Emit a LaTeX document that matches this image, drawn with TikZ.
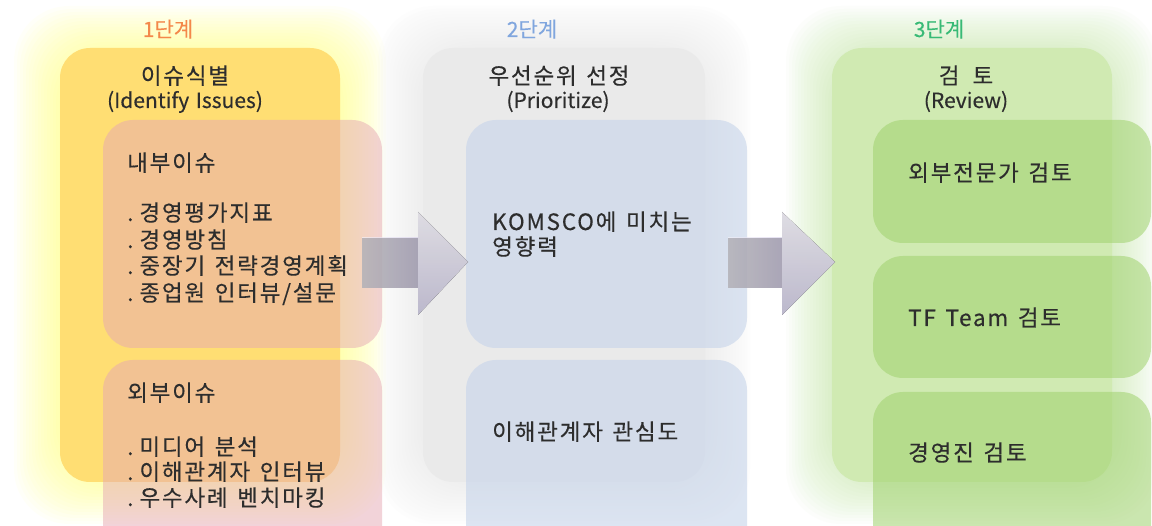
\documentclass[tikz,border=0pt]{standalone}
\usepackage{fontspec}
\setmainfont{Noto Sans CJK KR}[WordSpace=1.4, FakeBold=0.3, LetterSpace=8]
\newfontfamily\latinf{Noto Sans CJK KR}[WordSpace=1.4, FakeBold=0.3]
\definecolor{textc}{RGB}{45,45,45}
\definecolor{haloY}{RGB}{255,255,110}
\definecolor{haloGy}{RGB}{200,200,200}
\definecolor{haloGn}{RGB}{185,225,145}
\definecolor{boxY}{RGB}{255,222,115}
\definecolor{boxGy}{RGB}{234,234,234}
\definecolor{boxGn}{RGB}{208,234,178}
\definecolor{pinkc}{RGB}{230,168,180}
\definecolor{bluec}{RGB}{198,212,234}
\definecolor{greenc}{RGB}{160,210,110}
\definecolor{shaftc}{RGB}{214,207,234}
\definecolor{headtop}{RGB}{244,242,249}
\definecolor{headbot}{RGB}{206,202,224}
\definecolor{c1}{RGB}{244,136,74}
\definecolor{c2}{RGB}{128,166,222}
\definecolor{c3}{RGB}{56,186,118}
\begin{document}
\begin{tikzpicture}[x=1pt,y=-1pt,
  lbl/.style={anchor=base west, inner sep=0pt, text=textc, font=\fontsize{22.5}{26}\selectfont},
  ctr/.style={anchor=base, inner sep=0pt, text=textc, font=\fontsize{22.5}{26}\selectfont},
  ctrl/.style={anchor=base, inner sep=0pt, text=textc, font=\latinf\fontsize{21}{26}\selectfont},
  stagelbl/.style={anchor=base, inner sep=0pt, font=\latinf\fontsize{21}{26}\selectfont},
  outerbox/.style={rounded corners=30},
  innerbox/.style={rounded corners=30},
  shaft/.style={left color=shaftc!30, right color=shaftc, opacity=.65},
  head/.style={top color=headtop, bottom color=headbot, opacity=.9}]
\useasboundingbox (0,0) rectangle (1152,526);
\clip (0,0) rectangle (1152,526);
\fill[white] (0,0) rectangle (1152,526);
% halos
\foreach \i in {0,...,15} {
  \fill[haloY, opacity=.045, rounded corners=55] (14+\i*3,6+\i*3) rectangle (386-\i*3,524-\i*3);
  \fill[haloGy, opacity=.02, rounded corners=55] (378+\i*3,6+\i*3) rectangle (750-\i*3,524-\i*3);
  \fill[haloGn, opacity=.035, rounded corners=55] (786+\i*3,6+\i*3) rectangle (1158-\i*3,524-\i*3);
}
% outer boxes
\fill[boxY, outerbox] (60,48) rectangle (340,482);
\fill[boxGy, outerbox] (423,48) rectangle (705,482);
\fill[boxGn, outerbox] (832,48) rectangle (1112,482);
% inner boxes
\fill[pinkc, opacity=.5, innerbox] (103,120) rectangle (382,348);
\fill[pinkc, opacity=.5, innerbox] (103,360) rectangle (382,560);
\fill[bluec, opacity=.6, innerbox] (466,120) rectangle (747,348);
\fill[bluec, opacity=.6, innerbox] (466,360) rectangle (747,560);
\fill[greenc, opacity=.55, innerbox] (873,120) rectangle (1151,243);
\fill[greenc, opacity=.55, innerbox] (873,256) rectangle (1151,378);
\fill[greenc, opacity=.55, innerbox] (873,392) rectangle (1151,560);
% arrows
\fill[shaft] (362,238) rectangle (418,288);
\fill[head] (418,212) -- (468,262) -- (418,315) -- cycle;
\fill[shaft] (728,238) rectangle (782,288);
\fill[head] (782,212) -- (835,262) -- (782,315) -- cycle;
% stage 1 texts
\node[stagelbl, text=c1] (s1) at (168,37) {1단계};
\node[ctr] (s1t) at (185,84) {이슈식별};
\node[ctrl] (s1e) at (185,108) {(Identify Issues)};
\node[lbl] (in0) at (127,171) {내부이슈};
\node[lbl] (in1) at (127,221) {.\hspace{6pt}경영평가지표};
\node[lbl] (in2) at (127,248) {.\hspace{6pt}경영방침};
\node[lbl] (in3) at (127,274) {.\hspace{6pt}중장기 전략경영계획};
\node[lbl] (in4) at (127,301) {.\hspace{6pt}종업원 인터뷰/설문};
\node[lbl] (ex0) at (127,401) {외부이슈};
\node[lbl] (ex1) at (127,455) {.\hspace{6pt}미디어 분석};
\node[lbl] (ex2) at (127,480) {.\hspace{6pt}이해관계자 인터뷰};
\node[lbl] (ex3) at (127,506) {.\hspace{6pt}우수사례 벤치마킹};
% stage 2 texts
\node[stagelbl, text=c2] (s2) at (532,37) {2단계};
\node[ctr] (s2t) at (559,84) {우선순위 선정};
\node[ctrl] (s2e) at (558,108) {(Prioritize)};
\node[lbl] (p1) at (492,230) {KOMSCO에 미치는};
\node[lbl] (p2) at (492,255) {영향력};
\node[lbl] (p3) at (492,440) {이해관계자 관심도};
% stage 3 texts
\node[stagelbl, text=c3] (s3) at (939,37) {3단계};
\node[ctr] (s3t) at (966,84) {검\hspace{13pt}토};
\node[ctrl] (s3e) at (966,108) {(Review)};
\node[lbl] (r1) at (908,181) {외부전문가 검토};
\node[lbl] (r2) at (908,326) {TF Team 검토};
\node[lbl] (r3) at (908,461) {경영진 검토};
\end{tikzpicture}
\end{document}
